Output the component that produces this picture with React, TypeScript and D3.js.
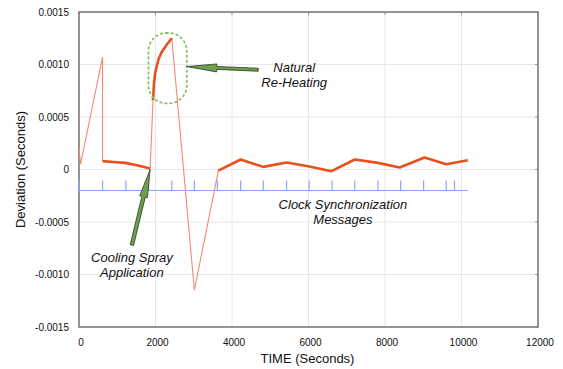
import * as d3 from 'd3';

// thin (drift) segments: [time s, deviation s]
const driftA: [number, number][] = [[0, 0.0002], [40, 0.00005], [616, 0.00107], [616, 0.00008]];
const driftB: [number, number][] = [[1860, 0.00001], [1935, 0.00066]];
const driftC: [number, number][] = [[2426, 0.00125], [3016, -0.00115], [3643, -0.00001]];

// thick (corrected) segments
const syncedEarly: [number, number][] = [[616, 0.00008], [903, 0.000072], [1208, 0.000063], [1513, 0.000041], [1860, 0.00001]];
const reheat: [number, number][] = [[1935, 0.00066], [1960, 0.00082], [1991, 0.00092], [2078, 0.00105], [2165, 0.00112], [2296, 0.00119], [2426, 0.00125]];
const syncedLate: [number, number][] = [
  [3643, -0.00001], [4226, 0.000095], [4817, 0.000025], [5426, 0.000067], [5990, 0.000031],
  [6600, -0.000016], [7209, 0.000095], [7817, 0.000063], [8383, 0.000019], [9035, 0.000114],
  [9600, 0.00005], [10165, 0.000089],
];

// clock synchronization message times
const syncTimes = [0, 616, 1226, 1817, 2426, 3016, 3617, 4226, 4817, 5426, 6017, 6617, 7209, 7817, 8409, 9009, 9600, 9817];
const syncLevel = -0.0002;
const syncEnd = 10165;

const xTicks = [0, 2000, 4000, 6000, 8000, 10000, 12000];
const yTicks = [0.0015, 0.001, 0.0005, 0, -0.0005, -0.001, -0.0015];
const yTickLabels = ['0.0015', '0.0010', '0.0005', '0', '-0.0005', '-0.0010', '-0.0015'];

const W = 563;
const H = 369;
const m = { left: 79, right: 25, top: 12, bottom: 42 };
const font = '"Liberation Sans", Arial, sans-serif';

function arrowPath(x1: number, y1: number, x2: number, y2: number, shaft: number, headLen: number, headW: number) {
  // arrow from (x1,y1) tail to (x2,y2) tip
  const dx = x2 - x1;
  const dy = y2 - y1;
  const len = Math.hypot(dx, dy);
  const ux = dx / len, uy = dy / len;
  const nx = -uy, ny = ux;
  const bx = x2 - ux * headLen, by = y2 - uy * headLen;
  const pts = [
    [x1 + nx * shaft / 2, y1 + ny * shaft / 2],
    [bx + nx * shaft / 2, by + ny * shaft / 2],
    [bx + nx * headW / 2, by + ny * headW / 2],
    [x2, y2],
    [bx - nx * headW / 2, by - ny * headW / 2],
    [bx - nx * shaft / 2, by - ny * shaft / 2],
    [x1 - nx * shaft / 2, y1 - ny * shaft / 2],
  ];
  return 'M' + pts.map(p => p.join(',')).join('L') + 'Z';
}

export default function App() {
  const x = d3.scaleLinear().domain([0, 12000]).range([m.left, W - m.right]);
  const y = d3.scaleLinear().domain([-0.0015, 0.0015]).range([H - m.bottom, m.top]);
  const line = d3.line<[number, number]>().x(d => x(d[0])).y(d => y(d[1]));

  const x0 = x(0), x1 = x(12000), y0 = y(-0.0015), y1 = y(0.0015);

  // annotation anchors in data units
  const heatTip = [2818, 0.00098], heatTail = [4686, 0.00095];
  const coolTip = [1860, 0.0], coolTail = [1383, -0.00072];
  const box = { t0: 1816, t1: 2818, v0: 0.00063, v1: 0.0013 };

  return (
    <svg width={W} height={H} style={{ position: 'absolute', left: 0, top: 0, background: '#fff' }} fontFamily={font}>
      {/* grid */}
      {xTicks.map(t => (
        <line key={'gx' + t} x1={x(t)} x2={x(t)} y1={y1} y2={y0} stroke="#e8e8e8" strokeWidth={1} />
      ))}
      {yTicks.map(v => (
        <line key={'gy' + v} x1={x0} x2={x1} y1={y(v)} y2={y(v)} stroke="#e8e8e8" strokeWidth={1} />
      ))}
      {/* small inner ticks on top / right */}
      {xTicks.map(t => (
        <line key={'tt' + t} x1={x(t)} x2={x(t)} y1={y1} y2={y1 + 3} stroke="#999" />
      ))}
      {yTicks.map(v => (
        <line key={'rt' + v} x1={x1} x2={x1 - 3} y1={y(v)} y2={y(v)} stroke="#999" />
      ))}
      <rect x={x0} y={y1} width={x1 - x0} height={y0 - y1} fill="none" stroke="#777" strokeWidth={1.5} />

      {/* sync messages */}
      <line x1={x(0)} x2={x(syncEnd)} y1={y(syncLevel)} y2={y(syncLevel)} stroke="#8aa6ff" strokeWidth={1.2} />
      {syncTimes.map((t, i) => (
        <line key={'s' + i} x1={x(t)} x2={x(t)} y1={y(syncLevel)} y2={y(syncLevel) - 10} stroke="#8aa6ff" strokeWidth={1.2} />
      ))}

      {/* drift */}
      {[driftA, driftB, driftC].map((d, i) => (
        <path key={'d' + i} d={line(d) ?? ''} fill="none" stroke="#f28a72" strokeWidth={1.1} />
      ))}
      {[syncedEarly, reheat, syncedLate].map((d, i) => (
        <path key={'k' + i} d={line(d) ?? ''} fill="none" stroke="#e8501e" strokeWidth={2.6} strokeLinejoin="round" />
      ))}

      {/* annotations */}
      <rect
        x={x(box.t0)} y={y(box.v1)} width={x(box.t1) - x(box.t0)} height={y(box.v0) - y(box.v1)}
        rx={18} ry={18} fill="none" stroke="#86bf5e" strokeWidth={1.8} strokeDasharray="1.5,3.5" strokeLinecap="round"
      />
      <path d={arrowPath(x(heatTail[0]), y(heatTail[1]), x(heatTip[0]), y(heatTip[1]), 3, 30, 8)}
        fill="#6f9e4c" stroke="#2f3a28" strokeWidth={0.8} />
      <path d={arrowPath(x(coolTail[0]), y(coolTail[1]), x(coolTip[0]), y(coolTip[1]), 3.5, 28, 8)}
        fill="#6f9e4c" stroke="#2f3a28" strokeWidth={0.8} />

      <g fontStyle="italic" fontSize={13} fill="#111" textAnchor="middle">
        <text x={x(heatTail[0]) + 36} y={y(heatTip[1]) + 5}>Natural</text>
        <text x={x(heatTail[0]) + 36} y={y(heatTip[1]) + 20}>Re-Heating</text>
        <text x={x(coolTail[0])} y={y(coolTail[1]) + 17}>Cooling Spray</text>
        <text x={x(coolTail[0])} y={y(coolTail[1]) + 32}>Application</text>
        <text x={x(6900)} y={y(syncLevel) + 18}>Clock Synchronization</text>
        <text x={x(6900)} y={y(syncLevel) + 33}>Messages</text>
      </g>

      {/* axes labels */}
      <g fontSize={10} fill="#111">
        {xTicks.map(t => (
          <text key={'xl' + t} x={x(t) + 2} y={y0 + 19} textAnchor="middle">{t}</text>
        ))}
        {yTicks.map((v, i) => (
          <text key={'yl' + v} x={x0 - 10} y={y(v) + 3.5} textAnchor="end">{yTickLabels[i]}</text>
        ))}
      </g>
      <text x={(x0 + x1) / 2 - 1} y={H - 6} textAnchor="middle" fontSize={13} fill="#111">TIME (Seconds)</text>
      <text transform={`translate(25,${(y0 + y1) / 2}) rotate(-90)`} textAnchor="middle" fontSize={13} fill="#111">
        Deviation (Seconds)
      </text>
    </svg>
  );
}
